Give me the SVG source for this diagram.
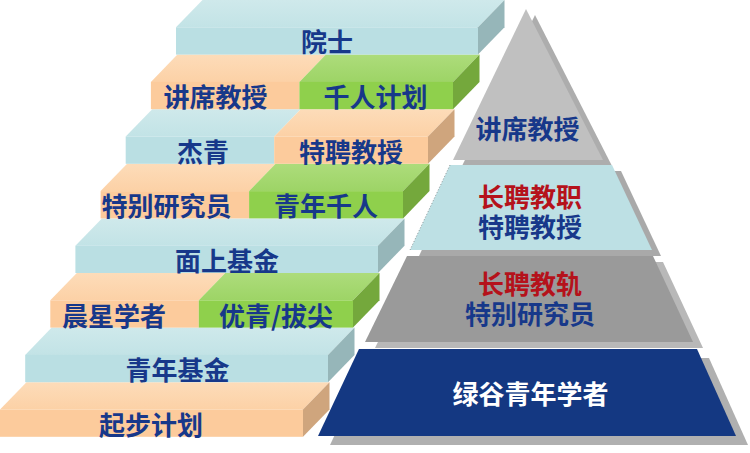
<svg xmlns="http://www.w3.org/2000/svg" width="750" height="453" viewBox="0 0 750 453">
<defs>
<linearGradient id="gTopB" x1="0" y1="0" x2="0" y2="1"><stop offset="0" stop-color="#cfe9eb"/><stop offset="1" stop-color="#c2e3e6"/></linearGradient>
<linearGradient id="gTopO" x1="0" y1="0" x2="0" y2="1"><stop offset="0" stop-color="#fddcb9"/><stop offset="1" stop-color="#fcd1a6"/></linearGradient>
<linearGradient id="gTopG" x1="0" y1="0" x2="0" y2="1"><stop offset="0" stop-color="#addc7b"/><stop offset="1" stop-color="#9dd466"/></linearGradient>
<style>
.tb{fill:url(#gTopB)} .fb{fill:#badfe3} .sb{fill:#96b6b9}
.to{fill:url(#gTopO)} .fo{fill:#fccb9c} .so{fill:#cfa57d}
.tg{fill:url(#gTopG)} .fg{fill:#8fd04c} .sg{fill:#74a83c}
text{font-family:"Noto Sans CJK SC","Noto Sans",sans-serif;font-weight:bold;font-size:26px;text-anchor:middle;dominant-baseline:central}
.n{fill:#17388a} .r{fill:#b5121b} .w{fill:#ffffff}
</style>
</defs>
<g id="staircase">
<g id="step-8">
<polygon class="to" points="0,409.5 26.5,382.2 329.5,382.2 303,409.5"/>
<rect class="fo" x="0" y="409.5" width="303" height="27.3"/>
<polygon class="so" points="303,409.5 329.5,382.2 329.5,409.5 303,436.8"/>
<text class="n" x="151" y="423">起步计划</text>
</g>
<g id="step-7">
<polygon class="tb" points="25.2,354.9 51.7,327.6 354.5,327.6 328,354.9"/>
<rect class="fb" x="25.2" y="354.9" width="302.8" height="27.3"/>
<polygon class="sb" points="328,354.9 354.5,327.6 354.5,354.9 328,382.2"/>
<text class="n" x="177.5" y="368.5">青年基金</text>
</g>
<g id="step-6">
<polygon class="to" points="50.3,300.3 76.8,273 225.3,273 198.8,300.3"/>
<polygon class="tg" points="198.8,300.3 225.3,273 379.5,273 353,300.3"/>
<rect class="fo" x="50.3" y="300.3" width="148.5" height="27.3"/>
<rect class="fg" x="198.8" y="300.3" width="154.2" height="27.3"/>
<polygon class="sg" points="353,300.3 379.5,273 379.5,300.3 353,327.6"/>
<text class="n" x="114" y="314">晨星学者</text>
<text class="n" x="276" y="314">优青/拔尖</text>
</g>
<g id="step-5">
<polygon class="tb" points="75.4,245.7 101.9,218.4 404.5,218.4 378,245.7"/>
<rect class="fb" x="75.4" y="245.7" width="302.6" height="27.3"/>
<polygon class="sb" points="378,245.7 404.5,218.4 404.5,245.7 378,273"/>
<text class="n" x="227" y="259.3">面上基金</text>
</g>
<g id="step-4">
<polygon class="to" points="100.6,191.1 127.1,163.8 275.6,163.8 249.1,191.1"/>
<polygon class="tg" points="249.1,191.1 275.6,163.8 429.5,163.8 403,191.1"/>
<rect class="fo" x="100.6" y="191.1" width="148.5" height="27.3"/>
<rect class="fg" x="249.1" y="191.1" width="153.9" height="27.3"/>
<polygon class="sg" points="403,191.1 429.5,163.8 429.5,191.1 403,218.4"/>
<text class="n" x="166.5" y="204.7">特别研究员</text>
<text class="n" x="326" y="204.7">青年千人</text>
</g>
<g id="step-3">
<polygon class="tb" points="125.7,136.5 152.2,109.2 300.7,109.2 274.2,136.5"/>
<polygon class="to" points="274.2,136.5 300.7,109.2 454.5,109.2 428,136.5"/>
<rect class="fb" x="125.7" y="136.5" width="148.5" height="27.3"/>
<rect class="fo" x="274.2" y="136.5" width="153.8" height="27.3"/>
<polygon class="so" points="428,136.5 454.5,109.2 454.5,136.5 428,163.8"/>
<text class="n" x="203" y="150">杰青</text>
<text class="n" x="351" y="150">特聘教授</text>
</g>
<g id="step-2">
<polygon class="to" points="150.9,81.9 177.4,54.6 325.9,54.6 299.4,81.9"/>
<polygon class="tg" points="299.4,81.9 325.9,54.6 479.5,54.6 453,81.9"/>
<rect class="fo" x="150.9" y="81.9" width="148.5" height="27.3"/>
<rect class="fg" x="299.4" y="81.9" width="153.6" height="27.3"/>
<polygon class="sg" points="453,81.9 479.5,54.6 479.5,81.9 453,109.2"/>
<text class="n" x="215.5" y="95.5">讲席教授</text>
<text class="n" x="375.5" y="95.5">千人计划</text>
</g>
<g id="step-1">
<polygon class="tb" points="176,27.3 202.5,0 504.5,0 478,27.3"/>
<rect class="fb" x="176" y="27.3" width="302" height="27.3"/>
<polygon class="sb" points="478,27.3 504.5,0 504.5,27.3 478,54.6"/>
<text class="n" x="327" y="40.9">院士</text>
</g>
</g>
<g id="pyramid">
<g id="level-1">
<polygon fill="#adadad" points="535,15 612,166 462,166"/>
<polygon fill="#c0c0c0" points="526,9 603,160 453,160"/>
<text class="n" x="527.5" y="127">讲席教授</text>
</g>
<g id="level-2">
<polygon fill="#a9a9a9" points="459,171 621,171 661,256 419,256"/>
<polygon fill="#bde0e4" points="450,165 612,165 652,250 410,250"/>
<line x1="450" y1="165" x2="410" y2="250" stroke="#555" stroke-width="0.8" stroke-dasharray="1 2" opacity="0.7"/>
<text x="530" y="195"><tspan class="r" x="530" y="195">长聘教职</tspan><tspan class="n" x="530" y="225">特聘教授</tspan></text>
</g>
<g id="level-3">
<polygon fill="#b8b8b8" points="417,262 663,262 703,348 375,348"/>
<polygon fill="#9a9a9a" points="407,256 653,256 693,342 365,342"/>
<text x="530" y="282"><tspan class="r" x="530" y="282">长聘教轨</tspan><tspan class="n" x="530" y="312">特别研究员</tspan></text>
</g>
<g id="level-4">
<polygon fill="#b0b0b0" points="371,358 709,358 748,445 330,445"/>
<polygon fill="#143882" points="359,349 697,349 736,436 318,436"/>
<text class="w" x="530.5" y="392">绿谷青年学者</text>
</g>
</g>
</svg>
